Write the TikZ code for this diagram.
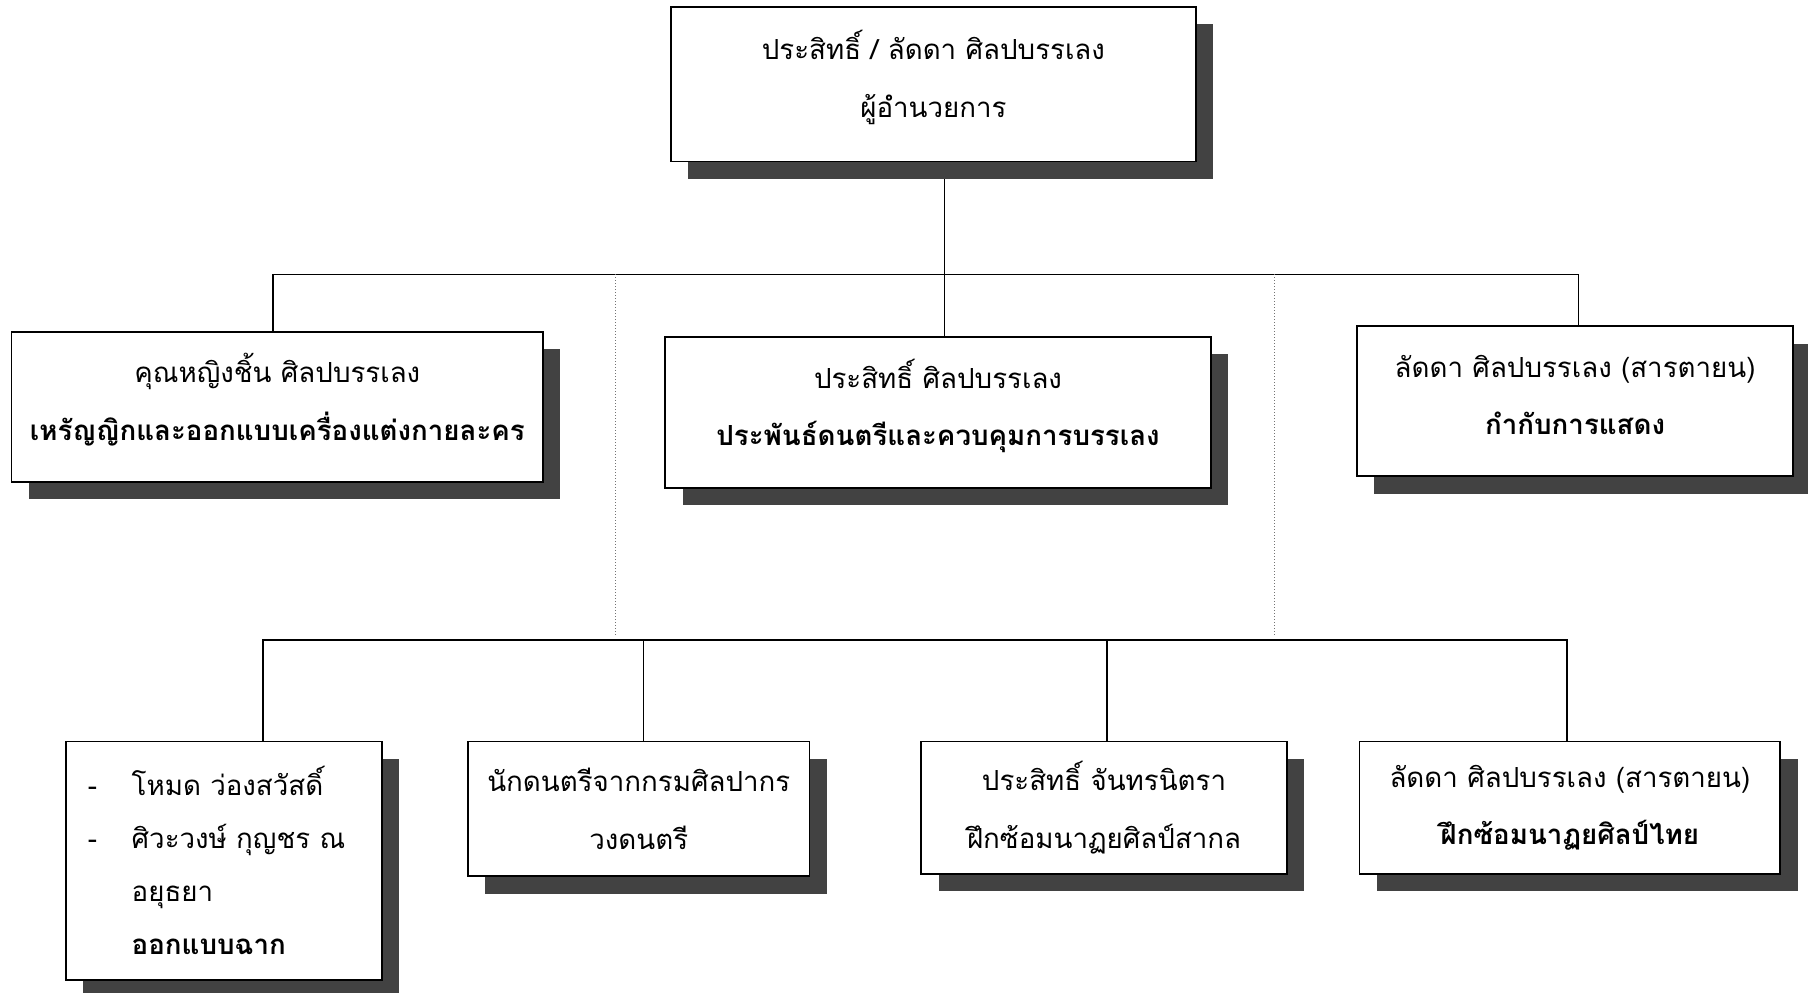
\documentclass[tikz,border=0pt]{standalone}
\usepackage{fontspec}
\newfontfamily\thaifont[Script=Thai]{Loma}
\usetikzlibrary{shadows,backgrounds}
\newcommand\uptext[1]{\raisebox{6pt}[\height][\depth]{\begin{tabular}{@{}c@{}}#1\end{tabular}}}
\tikzset{
  orgbox/.style={draw=black, line width=1.6pt, fill=white, align=center,
    inner sep=0pt, font=\thaifont\fontsize{24}{50}\selectfont,
    drop shadow={shadow xshift=15pt, shadow yshift=-15pt, opacity=1, fill=black!74}},
  conn/.style={line width=1.4pt, black},
  guide/.style={line width=0.6pt, black!55, dotted}
}
\begin{document}
\begin{tikzpicture}[x=1pt,y=-1pt]
\useasboundingbox (0,0) rectangle (1568,861);
% boxes
\node[orgbox, minimum width=455pt, minimum height=134pt] (top) at (809.5,73) {\uptext{ประสิทธิ์ / ลัดดา ศิลปบรรเลง\\ผู้อำนวยการ}};
\node[orgbox, minimum width=461pt, minimum height=130pt] (l1) at (240.5,353) {\uptext{คุณหญิงชิ้น ศิลปบรรเลง\\\bfseries เหรัญญิกและออกแบบเครื่องแต่งกายละคร}};
\node[orgbox, minimum width=473pt, minimum height=131pt] (m1) at (813.5,357.5) {\uptext{ประสิทธิ์ ศิลปบรรเลง\\\bfseries ประพันธ์ดนตรีและควบคุมการบรรเลง}};
\node[orgbox, minimum width=378pt, minimum height=130pt] (r1) at (1366,348) {\uptext{ลัดดา ศิลปบรรเลง (สารตายน)\\\bfseries กำกับการแสดง}};
\node[orgbox, minimum width=274pt, minimum height=207pt] (b1) at (194,746.5) {};
\node[anchor=west, inner sep=0pt, font=\thaifont\fontsize{24}{46}\selectfont] (b1text) at (76,750)
  {\begin{tabular}{@{}l@{\hspace{30pt}}l@{}}-&โหมด ว่องสวัสดิ์\\-&ศิวะวงษ์ กุญชร ณ\\&อยุธยา\\&\bfseries ออกแบบฉาก\end{tabular}};
\node[orgbox, minimum width=296pt, minimum height=117pt] (b2) at (554,701.5) {นักดนตรีจากกรมศิลปากร\\วงดนตรี};
\node[orgbox, minimum width=317pt, minimum height=115pt] (b3) at (957.5,700.5) {ประสิทธิ์ จันทรนิตรา\\ฝึกซ้อมนาฏยศิลป์สากล};
\node[orgbox, minimum width=365pt, minimum height=115pt] (b4) at (1361.5,700.5) {ลัดดา ศิลปบรรเลง (สารตายน)\\\bfseries ฝึกซ้อมนาฏยศิลป์ไทย};
% junction points
\coordinate (j0) at (819,238);
\coordinate (jl) at (237,238);
\coordinate (jr) at (1369,238);
\coordinate (d1) at (534,238);
\coordinate (d2) at (1105,238);
\coordinate (e1) at (534,552);
\coordinate (e2) at (1105,552);
\coordinate (k1) at (228,555);
\coordinate (k2) at (558,555);
\coordinate (k3) at (960,555);
\coordinate (k4) at (1359,555);
\begin{pgfonlayer}{background}
\draw[conn] (j0 |- top.south) -- (j0);
\draw[conn] (jl |- l1.north) -- (jl) -- (jr) -- (jr |- r1.north);
\draw[conn] (j0) -- (j0 |- m1.north);
\draw[guide] (d1) -- (e1);
\draw[guide] (d2) -- (e2);
\draw[conn] (k1 |- b1.north) -- (k1) -- (k4) -- (k4 |- b4.north);
\draw[conn] (k2) -- (k2 |- b2.north);
\draw[conn] (k3) -- (k3 |- b3.north);
\end{pgfonlayer}
\end{tikzpicture}
\end{document}
